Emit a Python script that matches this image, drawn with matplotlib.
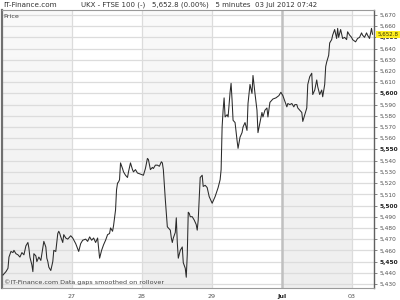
import numpy as np
import matplotlib
matplotlib.use("Agg")
import matplotlib.pyplot as plt
from matplotlib.colors import LinearSegmentedColormap

# intraday samples: slot index (70.2 slots per trading day, 0 = Jun 26 open) and price
slot = [1, 4, 6, 7, 9, 11, 12, 14, 16, 18, 20, 22, 24, 26, 27, 28, 30, 31, 32, 34,
        35, 37, 39, 41, 42, 44, 45, 46, 47, 49, 51, 52, 54, 56, 57, 58, 59, 61, 62, 64,
        66, 69, 71, 74, 77, 79, 81, 84, 86, 88, 90, 92, 94, 96, 98, 100, 102, 104, 106, 108,
        109, 111, 112, 114, 115, 116, 117, 118, 119, 121, 122, 124, 126, 127, 129, 131, 132, 134, 136, 139,
        142, 144, 146, 147, 149, 151, 152, 154, 156, 158, 160, 161, 162, 164, 166, 167, 169, 170, 171, 172,
        174, 175, 176, 177, 179, 181, 182, 184, 185, 186, 187, 188, 189, 191, 193, 195, 196, 197, 199, 201,
        202, 204, 206, 208, 211, 214, 217, 219, 220, 221, 222, 223, 224, 226, 227, 229, 230, 231, 232, 234,
        236, 237, 239, 241, 242, 244, 246, 247, 249, 251, 252, 254, 256, 257, 259, 261, 262, 264, 266, 267,
        269, 272, 275, 278, 280, 282, 284, 286, 287, 289, 291, 293, 294, 296, 297, 299, 301, 302, 304, 306,
        307, 309, 311, 312, 314, 316, 317, 319, 321, 322, 324, 325, 326, 328, 329, 331, 332, 334, 336, 337,
        338, 340, 342, 344, 346, 347, 349, 351, 352, 355, 357, 359, 361, 362, 364, 366, 367, 369, 371, 372]
price = [5438, 5441, 5444, 5454, 5459, 5458, 5460, 5457, 5456, 5454, 5458, 5456, 5464, 5467, 5462, 5454, 5447, 5441, 5457, 5455,
         5450, 5454, 5451, 5462, 5468, 5463, 5453, 5450, 5445, 5442, 5450, 5460, 5459, 5475, 5477, 5475, 5472, 5467, 5474, 5471,
         5470, 5473, 5471, 5466, 5459, 5466, 5469, 5470, 5468, 5472, 5469, 5471, 5467, 5471, 5453, 5460, 5465, 5469, 5474, 5475,
         5480, 5477, 5482, 5496, 5514, 5520, 5521, 5523, 5538, 5533, 5530, 5527, 5525, 5530, 5538, 5532, 5530, 5532, 5529, 5528,
         5527, 5533, 5542, 5541, 5532, 5534, 5533, 5536, 5536, 5535, 5539, 5538, 5532, 5505, 5481, 5480, 5478, 5471, 5467, 5471,
         5476, 5489, 5467, 5453, 5460, 5463, 5449, 5444, 5436, 5456, 5494, 5493, 5490, 5490, 5487, 5483, 5478, 5487, 5525, 5527,
         5517, 5518, 5516, 5508, 5502, 5508, 5516, 5523, 5532, 5570, 5585, 5596, 5579, 5581, 5579, 5601, 5609, 5594, 5576, 5574,
         5558, 5551, 5561, 5565, 5570, 5574, 5567, 5591, 5608, 5600, 5616, 5600, 5585, 5565, 5574, 5583, 5579, 5585, 5587, 5579,
         5592, 5595, 5596, 5598, 5601, 5598, 5593, 5588, 5591, 5590, 5591, 5588, 5590, 5590, 5587, 5585, 5583, 5575, 5581, 5587,
         5608, 5615, 5618, 5599, 5603, 5612, 5606, 5599, 5603, 5597, 5608, 5624, 5628, 5634, 5645, 5648, 5652, 5657, 5649, 5658,
         5650, 5657, 5649, 5650, 5648, 5655, 5652, 5650, 5648, 5646, 5649, 5650, 5654, 5652, 5650, 5654, 5652, 5649, 5658, 5652.8]
SLOTS_PER_DAY = 70.2

day_labels = ["27", "28", "29", "Jul", "03"]
shaded_days = [0, 2, 4]
last_price = 5652.8
header = "UKX - FTSE 100 (-)   5,652.8 (0.00%)   5 minutes  03 Jul 2012 07:42"

t = np.array(slot) / SLOTS_PER_DAY
y0, y1 = 5426.4, 5674.5
x1 = 373.5 / SLOTS_PER_DAY

fig = plt.figure(figsize=(4, 3), dpi=100)
ax = fig.add_axes([0.005, 0.04, 0.93, 0.927])
ax.set_xlim(0, x1)
ax.set_ylim(y0, y1)

# day shading (light vertical gradient)
grad = np.linspace(0, 1, 64).reshape(-1, 1)
cm_shade = LinearSegmentedColormap.from_list("shade", ["#eeeeee", "#fafafa"])
for d in shaded_days:
    ax.imshow(grad, extent=[d, d + 1, y0, y1], origin="lower", aspect="auto",
              cmap=cm_shade, zorder=0, interpolation="bilinear")

# grid
for v in np.arange(5430, 5671, 10):
    ax.axhline(v, color="#dcdcdc", lw=0.9, zorder=1)
for k in range(1, 6):
    if day_labels[k - 1] == "Jul":
        ax.axvline(k, color="#c0c0c0", lw=1.8, zorder=1)
    else:
        ax.axvline(k, color="#dcdcdc", lw=0.9, zorder=1)

ax.plot(t, price, color="#2a2a2a", lw=0.75, zorder=3)

# axes styling
for s in ["top", "bottom"]:
    ax.spines[s].set_color("#9a9a9a")
    ax.spines[s].set_linewidth(0.8)
ax.spines["left"].set_color("#707070")
ax.spines["left"].set_linewidth(1.6)
ax.spines["right"].set_color("#606060")
ax.spines["right"].set_linewidth(1.0)

yt = np.arange(5430, 5671, 10)
ax.yaxis.tick_right()
ax.set_yticks(yt)
ax.set_yticklabels([f"{v:,}" for v in yt])
for lab, v in zip(ax.get_yticklabels(), yt):
    if v % 50 == 0:
        lab.set_fontweight("bold")
        lab.set_color("#222222")
    else:
        lab.set_color("#555555")
ax.tick_params(axis="y", labelsize=4.2, length=2.5, width=0.6, color="#707070", pad=1.5)

ax.set_xticks(range(1, 6))
ax.set_xticklabels(day_labels)
for lab in ax.get_xticklabels():
    lab.set_color("#555555")
    if lab.get_text() == "Jul":
        lab.set_fontweight("bold")
        lab.set_color("#222222")
ax.tick_params(axis="x", labelsize=4.6, length=0, pad=4)

# texts
fig.text(0.008, 0.983, "IT-Finance.com", fontsize=5.2, color="#333333", va="center", ha="left")
fig.text(0.498, 0.983, header, fontsize=5, color="#333333", va="center", ha="center")
ax.text(0.005, 0.985, "Price", transform=ax.transAxes, fontsize=4.6, color="#444444", va="top", ha="left")
ax.text(0.005, 0.012, "\u00a9IT-Finance.com Data gaps smoothed on rollover", transform=ax.transAxes,
        fontsize=4.6, color="#444444", va="bottom", ha="left")

# last price marker, drawn over the tick labels
fig.canvas.draw()
_, yd = fig.transFigure.inverted().transform(ax.transData.transform((0, last_price)))
fig.text(0.944, yd, f"{last_price:,.1f}", fontsize=4.0, color="#333300", va="center", ha="left",
         bbox=dict(boxstyle="square,pad=0.2", fc="#ffee22", ec="none"), zorder=10)

fig.savefig("out.png", dpi=100)
